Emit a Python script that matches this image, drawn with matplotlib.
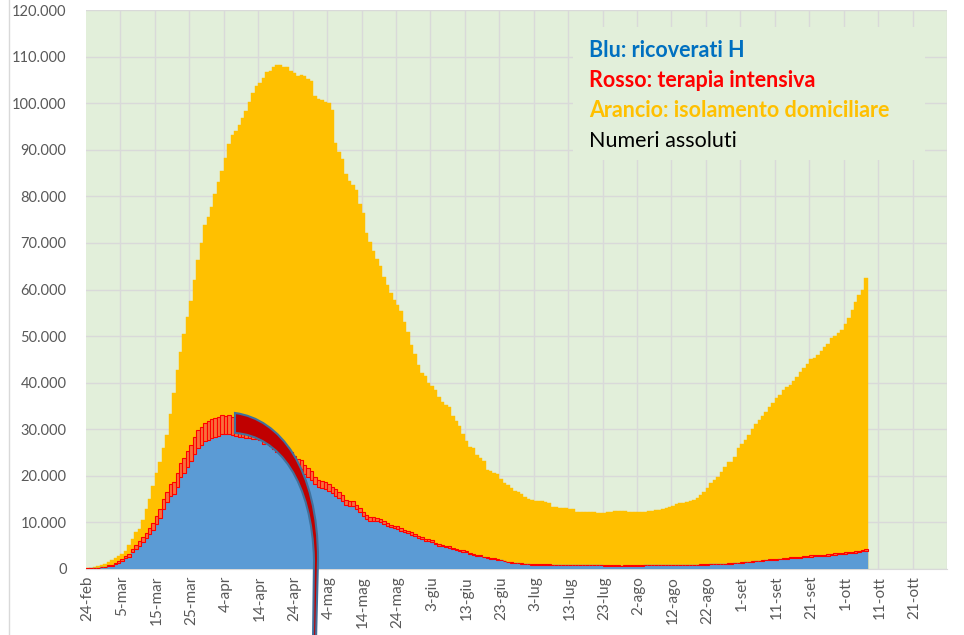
import matplotlib
matplotlib.use("Agg")
import matplotlib.pyplot as plt
import numpy as np
from matplotlib.patches import PathPatch, Rectangle
from matplotlib.path import Path
from matplotlib.lines import Line2D

plt.rcParams['font.family'] = ['Lato', 'DejaVu Sans']

# dati giornalieri dal 24-feb al 7-ott
totale_positivi = [
    221, 311, 385, 588, 821, 1049,
    1577, 1835, 2263, 2706, 3296, 3916, 5061, 6387, 7985, 8514, 10590, 12839, 14955, 17750, 20603, 23073,
    26062, 28710, 33190, 37860, 42681, 46638, 50418, 54030, 57521, 62013, 66414, 70065, 73880, 75528, 77635,
    80572, 83049, 85388, 88274, 91246, 93187, 94067, 95262, 96877, 98273, 100269, 102253, 103616, 104291,
    105418, 106607, 106962, 107771, 108257, 108237, 107709, 107699, 106848, 106527, 105847, 106103, 105813,
    105205, 104657, 101551,
    100943, 100704, 100179, 99980, 98467, 91528, 89624, 87961, 84842, 83324, 82488, 81266, 78457, 76440,
    72070, 70187, 68351, 66553, 65129, 62752, 60960, 59322, 57752, 56594, 55300, 52942, 50966, 47986, 46175,
    43691, 42075,
    41367, 39893, 39297, 38429, 36976, 35877, 35262, 34730, 32872, 31710, 30637, 28997, 27485, 26274, 25909,
    24569, 23925, 23101, 21212, 20972, 20637, 20300, 19400, 18400, 17990, 17480, 16700, 16480, 16200, 15400,
    15060, 14850, 14620, 14500, 14500, 14460, 14100, 13400, 13220, 13180, 13180, 13000, 12900, 12800, 12300,
    12300, 12230, 12200, 12200, 12200, 12030, 12100, 12100, 12200, 12220, 12400, 12400, 12420, 12400, 12230,
    12230,
    12230, 12300, 12320, 12310, 12480, 12520, 12690, 12710, 12960, 13100, 13300, 13600, 14000, 14080, 14200,
    14480, 14700, 14730, 15200, 15900, 16500, 17300, 18400, 19100, 19700, 20750, 21800, 23000, 23030, 24100,
    25900,
    26800, 27700, 28800, 30000, 31100, 32000, 32900, 33700, 34700, 35600, 36800, 37400, 38400, 39000, 39500,
    40400, 41300, 42300, 43100, 44000, 45000, 45400, 45900, 46800, 47600, 48400, 49500, 50000, 50600, 51200,
    52600, 53800, 55500, 57300, 58800, 60000, 62500,
]

ricoverati = [
    101, 114, 128, 248, 345, 401,
    639, 742, 1034, 1346, 1790, 2394, 2651, 3557, 4316, 5038, 5838, 6650, 7426, 8372, 9663, 11025, 12894,
    14363, 15757, 16020, 17708, 19846, 20692, 21937, 23112, 24753, 26029, 26676, 27386, 27795, 28192,
    28403, 28540, 29010, 28949, 28976, 28718, 28485, 28399, 28242, 28144, 28023, 27847, 28011, 27643, 26893,
    26952, 26491, 25786, 25033, 24906, 24134, 23805, 22871, 22068, 21533, 21372, 20353, 19723, 19210, 18149,
    17569, 17357, 17242, 16823, 16270, 15769, 15174, 14636, 13834, 13618, 13539, 12865, 12172, 11453, 10792,
    10400, 10311, 10207, 9991, 9624, 9269, 8957, 8695, 8613, 8185, 7917, 7729, 7379, 7094, 6680, 6387,
    6099, 5916, 5742, 5301, 5002, 4864, 4729, 4581, 4320, 4094, 3893, 3747, 3589, 3301, 3020, 2867, 2749,
    2474, 2314, 2138, 2131, 1974, 1899, 1614, 1489, 1300, 1213, 1181, 1090, 1025,
    1004, 962, 945, 935, 940, 918, 904, 882, 867, 851, 833, 822, 821, 801, 784, 783, 775, 775, 786, 768,
    763, 760, 749, 733, 732, 726, 713, 705, 715, 713, 732,
    737, 740, 749, 760, 761, 760, 759, 767, 788, 787, 793, 803, 810, 808, 827, 843, 843, 866, 873, 903,
    941, 946, 979, 1045, 1059, 1061, 1104, 1140, 1178, 1222, 1289,
    1380, 1402, 1471, 1505, 1617, 1677, 1760, 1836, 1927, 1935, 2004, 2042, 2122, 2222, 2285, 2288, 2380,
    2378, 2474, 2551, 2659, 2718, 2751, 2846, 2846, 2892, 2958, 3048, 3131, 3204,
    3287, 3348, 3416, 3487, 3625, 3757, 3925,
]

terapia_intensiva = [
    26, 35, 36, 56, 64, 105,
    140, 166, 229, 295, 351, 462, 567, 650, 733, 877, 1028, 1153, 1328, 1518, 1672, 1851, 2060, 2257, 2498,
    2655, 2857, 3009, 3204, 3396, 3489, 3612, 3732, 3856, 3906, 3981, 4023,
    4035, 4053, 4068, 3994, 3977, 3898, 3792, 3693, 3605, 3497, 3381, 3343, 3260, 3186, 3079, 2936, 2812,
    2733, 2635, 2573, 2471, 2384, 2267, 2173, 2102, 2009, 1956, 1863, 1795, 1694,
    1578, 1539, 1501, 1479, 1427, 1333, 1311, 1168, 1034, 1027, 999, 952, 893, 855, 808, 775, 762, 749, 716,
    676, 640, 595, 572, 553, 541, 521, 505, 489, 475, 450, 435,
    424, 423, 408, 353, 338, 316, 293, 287, 283, 263, 249, 236, 227, 220, 209, 207, 190, 168, 161, 152, 148,
    127, 115, 107, 103, 97, 95, 94, 93, 87,
    84, 79, 72, 71, 68, 67, 67, 66, 65, 65, 64, 65, 65, 59, 57, 53, 50, 49, 49, 48, 49, 49, 48, 46, 45, 41,
    41, 41, 42, 40, 38,
    41, 42, 41, 42, 42, 42, 45, 45, 49, 54, 55, 53, 56, 56, 55, 56, 58, 58, 64, 65, 68, 69, 66, 69, 66, 69,
    74, 79, 79, 86, 94,
    107, 109, 120, 133, 142, 143, 154, 164, 174, 182, 190, 201, 207, 201, 204, 207, 215, 222, 226, 239, 244,
    242, 247, 246, 254, 264, 271, 280, 294, 280,
    291, 303, 319, 323, 337, 358, 387,
]

tick_labels = ["24-feb", "5-mar", "15-mar", "25-mar", "4-apr", "14-apr", "24-apr", "4-mag", "14-mag",
               "24-mag", "3-giu", "13-giu", "23-giu", "3-lug", "13-lug", "23-lug", "2-ago", "12-ago",
               "22-ago", "1-set", "11-set", "21-set", "1-ott", "11-ott", "21-ott"]
n_categorie = 250  # l'asse arriva fino al 30-ott

W, H = 964, 635
fig = plt.figure(figsize=(W / 100, H / 100), dpi=100)
ax = fig.add_axes([86 / W, 66 / H, 861 / W, 559 / H])
ax.set_facecolor('#e2efda')

x = np.arange(len(totale_positivi))
ax.bar(x, totale_positivi, width=1.0, color='#ffc000', edgecolor='#ffc000', linewidth=0.3, zorder=2)
ax.bar(x, ricoverati, width=1.0, color='#5b9bd5', edgecolor='#5b9bd5', linewidth=0.3, zorder=3)
ax.bar(x, terapia_intensiva, bottom=ricoverati, width=1.0, color='#f8703c', edgecolor='#ff0000',
       linewidth=0.8, zorder=4)

ax.set_xlim(-0.5, n_categorie - 0.5)
ax.set_ylim(0, 120000)

yt = np.arange(0, 120001, 10000)
ax.set_yticks(yt)
ax.set_yticklabels([f"{v:,}".replace(',', '.') for v in yt], color='#595959', fontsize=10.5)
ax.set_xticks(np.arange(0, n_categorie, 10))
ax.set_xticklabels(tick_labels, rotation=90, color='#595959', fontsize=11)
ax.set_xticks(np.arange(9.5, n_categorie, 10), minor=True)
ax.tick_params(axis='both', which='both', length=0)
ax.tick_params(axis='y', pad=14)
ax.tick_params(axis='x', pad=5)

ax.set_axisbelow(True)
ax.yaxis.grid(True, color='#d9d9d9', linewidth=1)
ax.xaxis.grid(True, which='minor', color='#d9d9d9', linewidth=1)
for s in ['left', 'right', 'top']:
    ax.spines[s].set_visible(False)
ax.spines['bottom'].set_color('#d9d9d9')

# riquadro della legenda
ax.add_patch(Rectangle((573 / W, 1 - 160 / H), (925 - 573) / W, (160 - 27) / H,
                       transform=fig.transFigure, facecolor='#e2efda', edgecolor='none', zorder=5))
legenda = [("Blu: ricoverati H", '#0070c0', 'bold'),
           ("Rosso: terapia intensiva", '#ff0000', 'bold'),
           ("Arancio: isolamento domiciliare", '#ffc000', 'bold'),
           ("Numeri assoluti", '#000000', 'normal')]
for i, (t, c, w) in enumerate(legenda):
    fig.text(589 / W, 1 - (57 + 30 * i) / H, t, color=c, fontweight=w, fontsize=15.5,
             va='baseline', ha='left', zorder=6)

# freccia curva rossa (disegnata a mano nell'originale)
def fp(px, py):
    return (px / W, 1 - py / H)

verts = [fp(235, 413), fp(280, 419), fp(318, 468), fp(318, 560), fp(316, 640),
         fp(313, 640), fp(314, 560), fp(312, 482), fp(280, 436), fp(235, 433), fp(235, 413)]
codes = [Path.MOVETO, Path.CURVE4, Path.CURVE4, Path.CURVE4, Path.LINETO,
         Path.LINETO, Path.LINETO, Path.CURVE4, Path.CURVE4, Path.CURVE4, Path.CLOSEPOLY]
freccia = PathPatch(Path(verts, codes), facecolor='#c00000', edgecolor='#41719c', linewidth=1.5,
                    transform=fig.transFigure, zorder=10)
fig.add_artist(freccia)

fig.add_artist(Line2D([9 / W, 9 / W], [0, 1], color='#d9d9d9', linewidth=1, transform=fig.transFigure))

fig.savefig('out.png', dpi=100)
